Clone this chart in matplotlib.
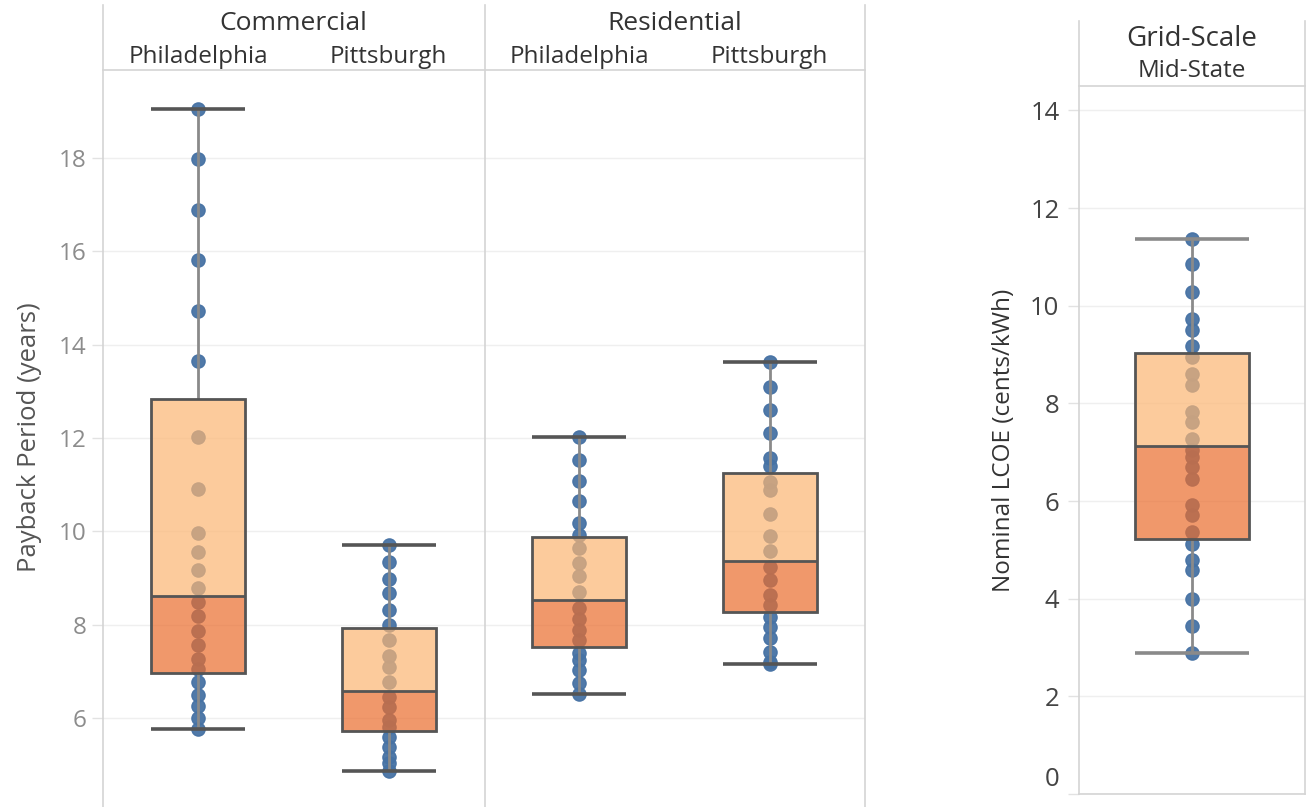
import matplotlib
matplotlib.use("Agg")
import matplotlib.pyplot as plt
from matplotlib.lines import Line2D
from matplotlib.transforms import ScaledTranslation

# ---------------- data ----------------
segments = ["Commercial", "Residential"]
cities = ["Philadelphia", "Pittsburgh", "Philadelphia", "Pittsburgh"]

comm_phl = [19.05, 17.98, 16.89, 15.81, 14.72, 13.65, 12.03, 10.91, 9.96, 9.56, 9.17,
            8.79, 8.49, 8.19, 7.87, 7.57, 7.26, 7.05, 6.78, 6.50, 6.25, 6.00, 5.76]
comm_pit = [9.70, 9.34, 8.98, 8.67, 8.31, 7.99, 7.67, 7.33, 7.09, 6.78, 6.46, 6.24,
            5.96, 5.80, 5.60, 5.39, 5.17, 5.03, 4.87]
res_phl = [12.03, 11.53, 11.08, 10.65, 10.19, 9.92, 9.64, 9.32, 9.04, 8.71, 8.36,
           8.13, 7.89, 7.67, 7.39, 7.24, 7.03, 6.75, 6.52]
res_pit = [13.63, 13.09, 12.60, 12.10, 11.58, 11.40, 11.05, 10.89, 10.37, 9.91, 9.57,
           9.23, 8.96, 8.64, 8.42, 8.17, 7.96, 7.71, 7.42, 7.21, 7.15]
payback_q1 = [6.96, 5.72, 7.52, 8.28]
payback_med = [8.62, 6.59, 8.52, 9.36]
payback_q3 = [12.84, 7.94, 9.87, 11.25]

grid_label = "Grid-Scale"
grid_sub = "Mid-State"
grid_lcoe = [11.37, 10.85, 10.29, 9.73, 9.50, 9.17, 8.94, 8.61, 8.37, 7.83, 7.61, 7.28,
             7.04, 6.90, 6.70, 6.46, 5.91, 5.71, 5.37, 5.13, 4.79, 4.58, 4.00, 3.45, 2.89]
grid_q1 = [5.23]
grid_med = [7.13]
grid_q3 = [9.04]

left_ticks = [6, 8, 10, 12, 14, 16, 18]
right_ticks = [0, 2, 4, 6, 8, 10, 12, 14]

# ---------------- style ----------------
plt.rcParams['font.family'] = ['Open Sans', 'DejaVu Sans']
W, H = 1310, 807
fig = plt.figure(figsize=(W / 100, H / 100), dpi=100)

DOT = '#4672a4'
UPPER = '#fcb673'
LOWER = '#ea6d2d'
BOX_ALPHA = 0.7
EDGE = '#555555'
WHISK = '#8a8a8a'
GRID = '#efefef'
BORDER = '#d4d4d4'


def ax_px(x0, y0, x1, y1):
    return fig.add_axes([x0 / W, (H - y1) / H, (x1 - x0) / W, (y1 - y0) / H])


def fig_line(x0, y0, x1, y1, color=BORDER, lw=1.2):
    fig.add_artist(Line2D([x0 / W, x1 / W], [(H - y0) / H, (H - y1) / H],
                          transform=fig.transFigure, color=color, lw=lw))


def draw_box(ax, x, data, q1, med, q3, width, capcolor):
    ax.plot([x] * len(data), data, 'o', ms=9.5, color=DOT, mec=DOT, alpha=0.95, zorder=2)
    lo, hi = min(data), max(data)
    ax.vlines(x, q3, hi, color=WHISK, lw=2, zorder=3)
    ax.vlines(x, lo, q1, color=WHISK, lw=2, zorder=3)
    ax.hlines([lo, hi], x - width / 2, x + width / 2, color=capcolor, lw=2.6, zorder=3)
    ax.bar(x, med - q1, width, bottom=q1, color=LOWER, alpha=BOX_ALPHA, lw=0, zorder=4)
    ax.bar(x, q3 - med, width, bottom=med, color=UPPER, alpha=BOX_ALPHA, lw=0, zorder=4)
    ax.bar(x, q3 - q1, width, bottom=q1, fill=False, edgecolor=EDGE, lw=2, zorder=5)
    ax.hlines(med, x - width / 2, x + width / 2, color=EDGE, lw=2, zorder=5)


def style_axes(ax, ticks, labelcolor, pad, size):
    for s in ax.spines.values():
        s.set_visible(False)
    ax.set_yticks(ticks)
    ax.set_yticklabels([str(t) for t in ticks])
    ax.tick_params(axis='y', length=8, width=1, color='#e2e2e2', labelsize=size,
                   labelcolor=labelcolor, pad=pad)
    ax.set_xticks([])
    for t in ticks:
        ax.axhline(t, color=GRID, lw=1, zorder=0)


# ---------------- left panel ----------------
axL = ax_px(103, 70, 865, 805)
series = [comm_phl, comm_pit, res_phl, res_pit]
for i, d in enumerate(series):
    draw_box(axL, i, d, payback_q1[i], payback_med[i], payback_q3[i], 0.495, EDGE)
axL.set_xlim(-0.5, 3.5)
axL.set_ylim(4.137, 19.886)
style_axes(axL, left_ticks, '#8c8c8c', 4, 17.5)
axL.set_ylabel("Payback Period (years)", fontsize=18.5, color='#555555', labelpad=12)

# headers
for j, seg in enumerate(segments):
    xc = 103 + (j + 0.5) * 381
    fig.text(xc / W, (H - 24) / H, seg, ha='center', va='center', fontsize=19, color='#333333')
for i, c in enumerate(cities):
    xc = 103 + (i + 0.5) * 190.5
    fig.text(xc / W, (H - 57) / H, c, ha='center', va='center', fontsize=17.5, color='#333333')

fig_line(103, 5, 103, 807)
fig_line(485, 5, 485, 807)
fig_line(865, 5, 865, 807)
fig_line(103, 70, 865, 70)

# ---------------- right panel ----------------
axR = ax_px(1079, 86, 1305, 794)
draw_box(axR, 0, grid_lcoe, grid_q1[0], grid_med[0], grid_q3[0], 0.505, WHISK)
axR.set_xlim(-0.5, 0.5)
axR.set_ylim(0, 14.5)
style_axes(axR, right_ticks, '#444444', 6, 18.5)
axR.set_ylabel("Nominal LCOE (cents/kWh)", fontsize=17.5, color='#333333', labelpad=10)
lab0 = axR.get_yticklabels()[0]
lab0.set_transform(lab0.get_transform() + ScaledTranslation(0, 0.17, fig.dpi_scale_trans))

fig.text(1192 / W, (H - 39) / H, grid_label, ha='center', va='center', fontsize=20, color='#333333')
fig.text(1192 / W, (H - 71) / H, grid_sub, ha='center', va='center', fontsize=17.5, color='#333333')
fig_line(1079, 21, 1079, 794)
fig_line(1305, 21, 1305, 794)
fig_line(1079, 86, 1305, 86)
fig_line(1079, 794, 1305, 794)

fig.savefig("out.png", dpi=100)
